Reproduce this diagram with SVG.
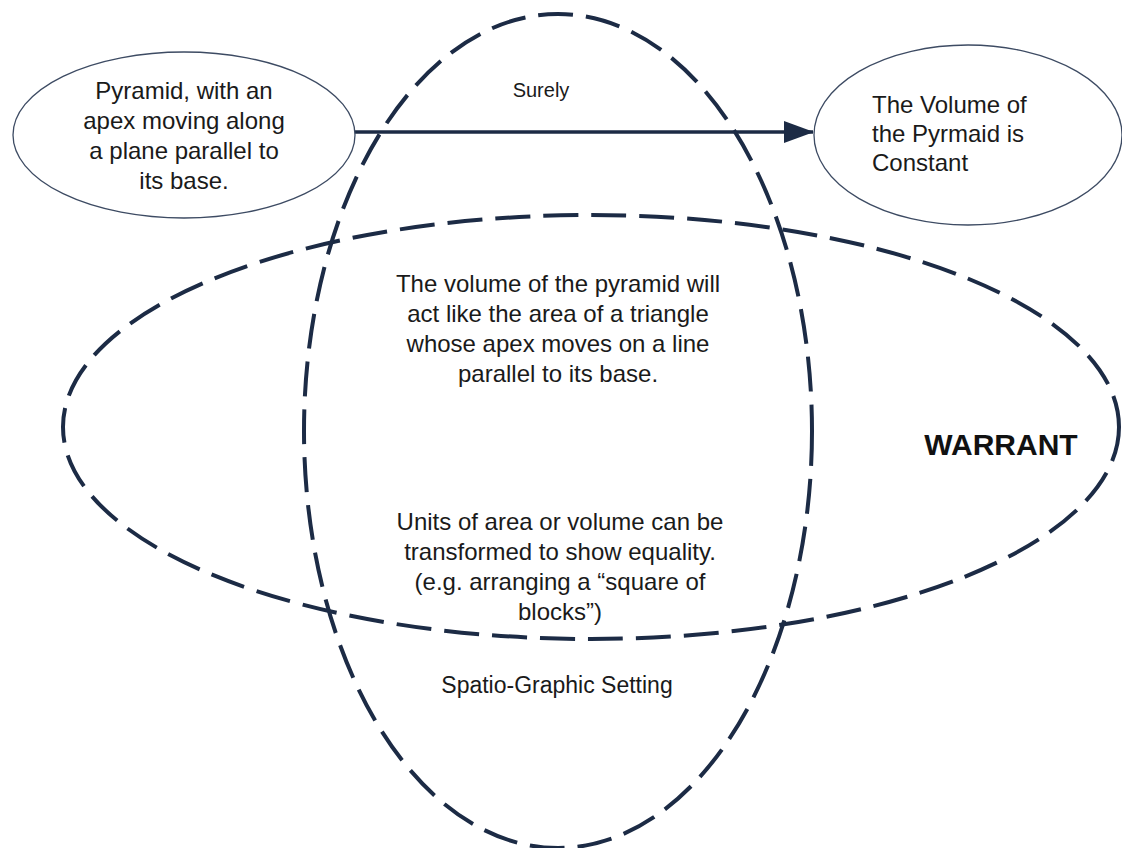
<svg xmlns="http://www.w3.org/2000/svg" width="1122" height="848" viewBox="0 0 1122 848">
<style>
.t{font-family:"Liberation Sans",Arial,sans-serif;font-size:24px;fill:#1a1a1a;text-anchor:middle}
.dash{fill:none;stroke:#1c2b45;stroke-width:4;stroke-dasharray:35 13}
.node{fill:#fff;stroke:#3d4b63;stroke-width:1.3}
</style>
<defs>
<marker id="ah" markerWidth="30" markerHeight="24" refX="29" refY="12" orient="auto" markerUnits="userSpaceOnUse" viewBox="0 0 30 24">
<path d="M0,1 L30,12 L0,23 z" fill="#1c2b45"/>
</marker>
</defs>
<rect width="1122" height="848" fill="#fff"/>
<g id="warrant">
<ellipse class="dash" cx="591" cy="427" rx="528" ry="212"/>
<text x="1001" y="455" style="font-family:'Liberation Sans',Arial,sans-serif;font-size:30px;font-weight:bold;fill:#111;text-anchor:middle">WARRANT</text>
</g>
<g id="setting">
<ellipse class="dash" cx="558" cy="431" rx="254" ry="417"/>
<text class="t" x="541" y="97" style="font-size:20px">Surely</text>
<text class="t" x="557" y="693" style="font-size:23px">Spatio-Graphic Setting</text>
</g>
<g id="warrant-text1">
<text class="t"><tspan x="558" y="292">The volume of the pyramid will</tspan><tspan x="558" y="322">act like the area of a triangle</tspan><tspan x="558" y="352">whose apex moves on a line</tspan><tspan x="558" y="382">parallel to its base.</tspan></text>
</g>
<g id="warrant-text2">
<text class="t"><tspan x="560" y="530">Units of area or volume can be</tspan><tspan x="560" y="560">transformed to show equality.</tspan><tspan x="560" y="590">(e.g. arranging a “square of</tspan><tspan x="560" y="620">blocks”)</tspan></text>
</g>
<g id="connectors">
<line x1="355" y1="132" x2="813" y2="132" stroke="#1c2b45" stroke-width="3.5" marker-end="url(#ah)"/>
</g>
<g id="data">
<ellipse class="node" cx="184" cy="135" rx="171" ry="83"/>
<text class="t"><tspan x="184" y="99">Pyramid, with an</tspan><tspan x="184" y="129">apex moving along</tspan><tspan x="184" y="159">a plane parallel to</tspan><tspan x="184" y="189">its base.</tspan></text>
</g>
<g id="claim">
<ellipse class="node" cx="968" cy="135" rx="154" ry="90"/>
<text class="t" style="text-anchor:start"><tspan x="872" y="113">The Volume of</tspan><tspan x="872" y="142">the Pyrmaid is</tspan><tspan x="872" y="171">Constant</tspan></text>
</g>
</svg>
